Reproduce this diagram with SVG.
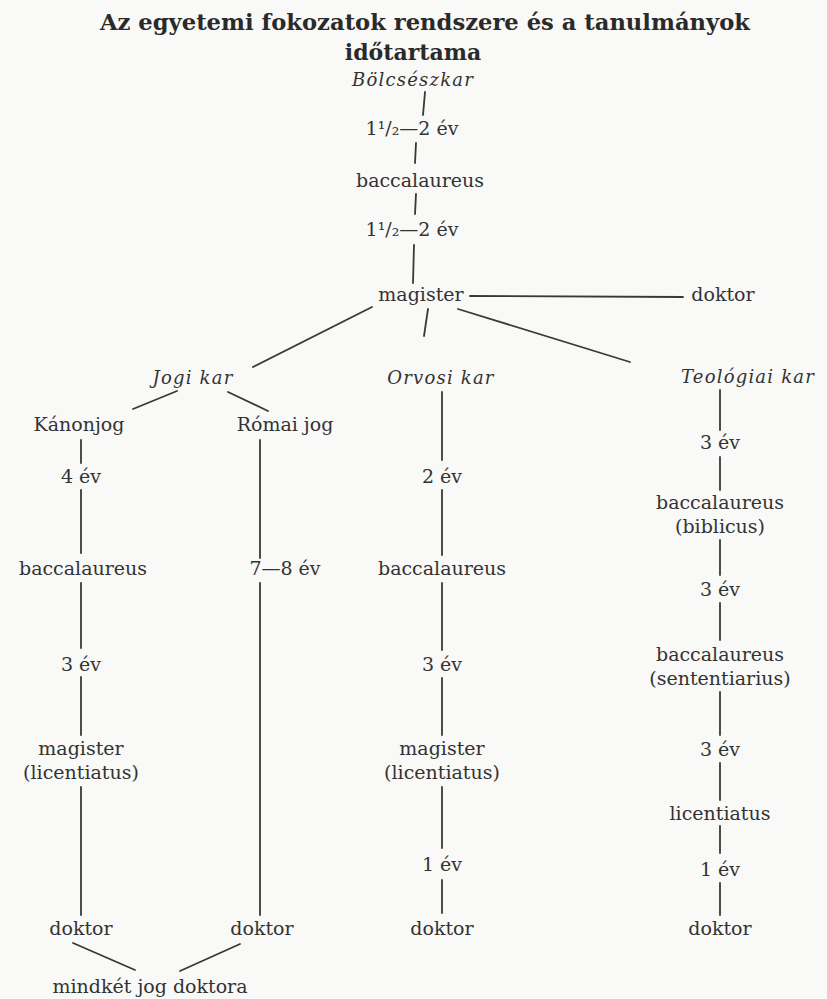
<svg xmlns="http://www.w3.org/2000/svg" width="827" height="999" viewBox="0 0 827 999">
<style>
.t{font-family:"DejaVu Serif","Liberation Serif",serif;font-size:19px;fill:#333;text-anchor:middle}
.i{font-family:"DejaVu Serif","Liberation Serif",serif;font-style:italic;font-size:18px;fill:#333;text-anchor:middle;letter-spacing:1.2px}
.h{font-family:"DejaVu Serif","Liberation Serif",serif;font-weight:bold;font-size:22px;fill:#2a2a2a;text-anchor:middle}
.c line{stroke:#383838;stroke-width:1.8;stroke-linecap:round}
</style>
<rect width="827" height="999" fill="#f9f9f7"/>
<g id="title">
<text class="h" x="425" y="30" textLength="650" lengthAdjust="spacingAndGlyphs">Az egyetemi fokozatok rendszere és a tanulmányok</text>
<text class="h" x="413" y="60">időtartama</text>
</g>
<g class="c" id="connectors">
<line x1="425" y1="92" x2="423" y2="115"/>
<line x1="416" y1="143" x2="415" y2="163"/>
<line x1="416" y1="194" x2="415" y2="214"/>
<line x1="414" y1="245" x2="413" y2="283"/>
<line x1="470" y1="296" x2="683" y2="297"/>
<line x1="372" y1="307" x2="253" y2="367"/>
<line x1="428" y1="309" x2="424" y2="336"/>
<line x1="458" y1="309" x2="630" y2="362"/>
<line x1="177" y1="391" x2="133" y2="409"/>
<line x1="228" y1="392" x2="268" y2="411"/>
<line x1="81" y1="440" x2="81" y2="463"/>
<line x1="81" y1="490" x2="81" y2="553"/>
<line x1="81" y1="583" x2="81" y2="648"/>
<line x1="81" y1="677" x2="81" y2="735"/>
<line x1="81" y1="787" x2="81" y2="915"/>
<line x1="260" y1="440" x2="260" y2="558"/>
<line x1="260" y1="583" x2="260" y2="915"/>
<line x1="442" y1="392" x2="442" y2="460"/>
<line x1="442" y1="490" x2="442" y2="555"/>
<line x1="442" y1="583" x2="442" y2="650"/>
<line x1="442" y1="678" x2="442" y2="735"/>
<line x1="442" y1="787" x2="442" y2="848"/>
<line x1="442" y1="880" x2="442" y2="913"/>
<line x1="720" y1="390" x2="720" y2="430"/>
<line x1="720" y1="457" x2="720" y2="490"/>
<line x1="720" y1="540" x2="720" y2="575"/>
<line x1="720" y1="603" x2="720" y2="640"/>
<line x1="720" y1="692" x2="720" y2="735"/>
<line x1="720" y1="763" x2="720" y2="800"/>
<line x1="720" y1="826" x2="720" y2="853"/>
<line x1="720" y1="883" x2="720" y2="915"/>
<line x1="73" y1="943" x2="135" y2="970"/>
<line x1="240" y1="944" x2="180" y2="971"/>
</g>
<g id="n-bolcsesz"><text class="i" x="413" y="86">Bölcsészkar</text></g>
<g id="n-ev1"><text class="t" x="412" y="135">1¹/₂—2 év</text></g>
<g id="n-bacc"><text class="t" x="420" y="187">baccalaureus</text></g>
<g id="n-ev2"><text class="t" x="412" y="236">1¹/₂—2 év</text></g>
<g id="n-magister"><text class="t" x="421" y="301">magister</text></g>
<g id="n-doktor0"><text class="t" x="723" y="301">doktor</text></g>
<g id="n-jogi"><text class="i" x="193" y="384">Jogi kar</text></g>
<g id="n-orvosi"><text class="i" x="441" y="384">Orvosi kar</text></g>
<g id="n-teol"><text class="i" x="748" y="383">Teológiai kar</text></g>
<g id="n-kanon"><text class="t" x="79" y="431">Kánonjog</text></g>
<g id="n-romai"><text class="t" x="285" y="431">Római jog</text></g>
<g id="n-k4"><text class="t" x="81" y="483">4 év</text></g>
<g id="n-kbacc"><text class="t" x="83" y="575">baccalaureus</text></g>
<g id="n-k3"><text class="t" x="81" y="671">3 év</text></g>
<g id="n-kmag"><text class="t" x="81" y="755">magister</text><text class="t" x="81" y="779">(licentiatus)</text></g>
<g id="n-kdok"><text class="t" x="81" y="935">doktor</text></g>
<g id="n-r78"><text class="t" x="285" y="575">7—8 év</text></g>
<g id="n-rdok"><text class="t" x="262" y="935">doktor</text></g>
<g id="n-mindket"><text class="t" x="150" y="993">mindkét jog doktora</text></g>
<g id="n-o2"><text class="t" x="442" y="483">2 év</text></g>
<g id="n-obacc"><text class="t" x="442" y="575">baccalaureus</text></g>
<g id="n-o3"><text class="t" x="442" y="671">3 év</text></g>
<g id="n-omag"><text class="t" x="442" y="755">magister</text><text class="t" x="442" y="779">(licentiatus)</text></g>
<g id="n-o1"><text class="t" x="442" y="871">1 év</text></g>
<g id="n-odok"><text class="t" x="442" y="935">doktor</text></g>
<g id="n-t3a"><text class="t" x="720" y="449">3 év</text></g>
<g id="n-tbib"><text class="t" x="720" y="509">baccalaureus</text><text class="t" x="720" y="533">(biblicus)</text></g>
<g id="n-t3b"><text class="t" x="720" y="596">3 év</text></g>
<g id="n-tsent"><text class="t" x="720" y="661">baccalaureus</text><text class="t" x="720" y="685">(sententiarius)</text></g>
<g id="n-t3c"><text class="t" x="720" y="756">3 év</text></g>
<g id="n-tlic"><text class="t" x="720" y="820">licentiatus</text></g>
<g id="n-t1"><text class="t" x="720" y="876">1 év</text></g>
<g id="n-tdok"><text class="t" x="720" y="935">doktor</text></g>
</svg>
